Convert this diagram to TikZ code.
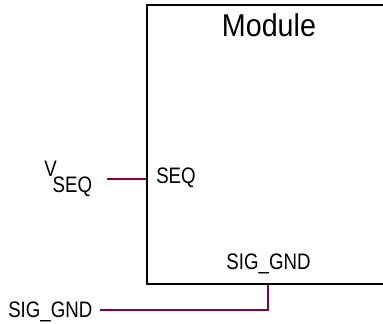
\documentclass[tikz,border=0pt]{standalone}
\usepackage{fontspec}
\setmainfont{Liberation Sans}
\usepackage{graphicx}
\usepackage{xcolor}
\definecolor{wirered}{RGB}{135,0,70}
\newcommand{\tallsf}[1]{\scalebox{1}[1.2]{#1}}

\begin{document}
\begin{tikzpicture}[x=0.75pt, y=-0.75pt,
  modbox/.style={draw=black, line width=1.5pt, rectangle, inner sep=0pt,
                 minimum width=189.4pt, minimum height=209.25pt},
  pinlabel/.style={font=\fontsize{14}{16}\selectfont, inner sep=0pt},
  title/.style={font=\fontsize{21.5}{24}\selectfont, inner sep=0pt},
  wire/.style={draw=wirered, line width=1.3pt},
]
\useasboundingbox (0,0) rectangle (383,324);
\clip (0,0) rectangle (383,324);

% --- Module ---
\node[modbox] (module) at (273.75,144.5) {};
\node[title, anchor=base] (modname) at (269,37) {\scalebox{1}[1.1]{Module}};

% --- Pin SEQ ---
\coordinate (seqpin) at (module.west |- 0,179);
\coordinate (seqend) at (107,179);
\node[pinlabel, anchor=base west] (seqlbl) at (156,184) {\tallsf{SEQ}};
\node[pinlabel, anchor=base west] (vseq) at (44,177) {\tallsf{V}\hspace{-3pt}\raisebox{-12pt}{\tallsf{SEQ}}};
\draw[wire] (seqend) -- (seqpin);

% --- Pin SIG_GND ---
\coordinate (gndpin) at (268,0 |- module.south);
\coordinate (gndend) at (100,310);
\node[pinlabel, anchor=base] (gndlbl) at (268.5,270) {\tallsf{SIG\_GND}};
\node[pinlabel, anchor=base west] (gndnet) at (8,318) {\tallsf{SIG\_GND}};
\draw[wire] (gndpin) |- (gndend);

\end{tikzpicture}
\end{document}
